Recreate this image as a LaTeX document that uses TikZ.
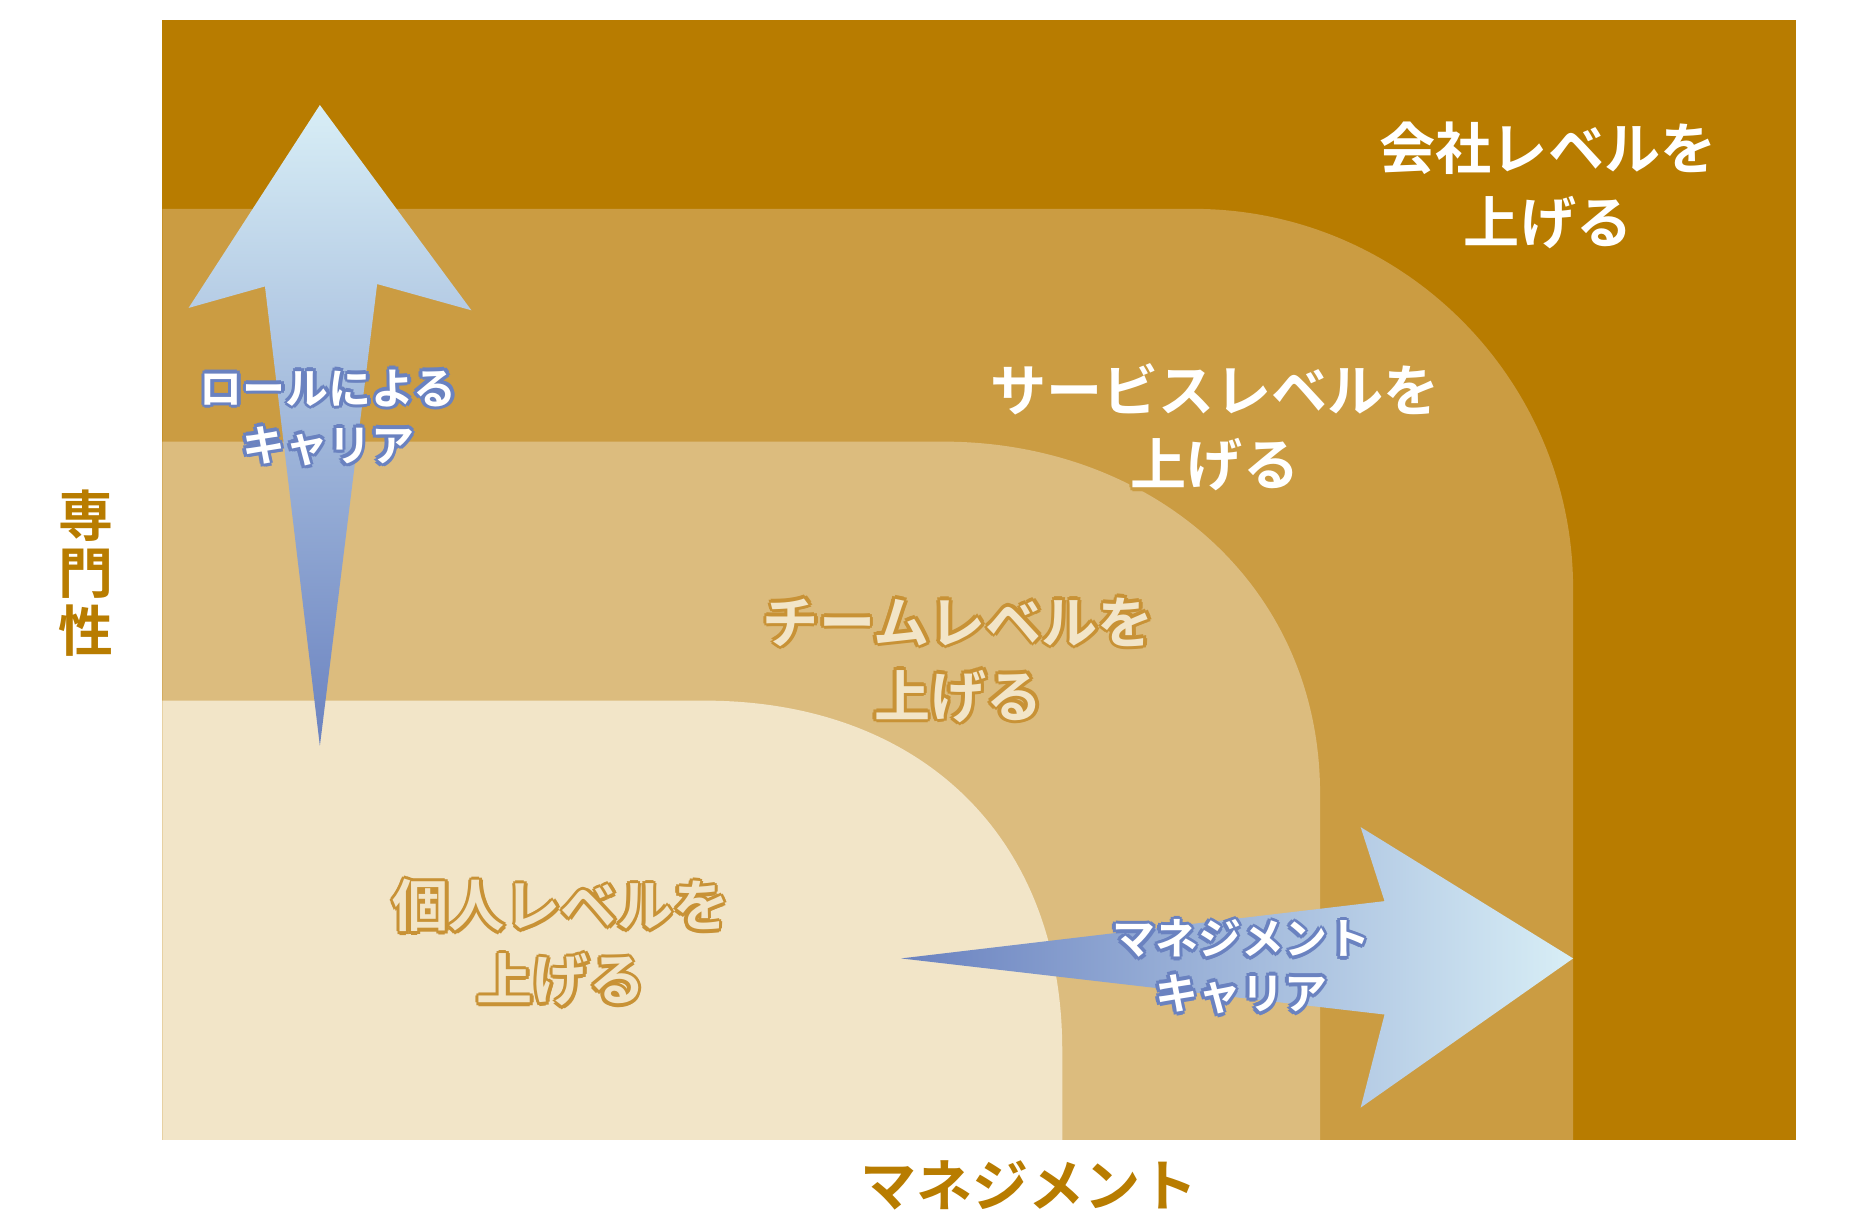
\documentclass[tikz,border=0pt]{standalone}
\usepackage{fontspec}
\setmainfont{Noto Sans CJK JP}[BoldFont={Noto Sans CJK JP Bold}]
\definecolor{lvA}{HTML}{B87C00}
\definecolor{lvB}{HTML}{CB9C42}
\definecolor{lvC}{HTML}{DCBC7E}
\definecolor{lvD}{HTML}{F2E5C8}
\definecolor{arLight}{HTML}{D8EEF6}
\definecolor{arDark}{HTML}{6A82C0}
\definecolor{outBlue}{HTML}{6A82C0}
\definecolor{outOr}{HTML}{C89236}
\usetikzlibrary{calc}
\newcommand{\otext}[6]{% pos, size, skip, fill, outline, text
  \foreach \dx/\dy in {3/0,-3/0,0/3,0/-3,2.2/2.2,-2.2/2.2,2.2/-2.2,-2.2/-2.2}
    {\node[align=center,font=\fontsize{#2}{#3}\selectfont\bfseries,text=#5,inner sep=0] at ($(#1)+(\dx,\dy)$) {#6};}
  \node[align=center,font=\fontsize{#2}{#3}\selectfont\bfseries,text=#4,inner sep=0] at (#1) {#6};}
\begin{document}
\begin{tikzpicture}[x=1pt,y=-1pt]
\useasboundingbox (0,0) rectangle (1550,1032);
\fill[white] (0,0) rectangle (1550,1032);
\fill[lvA] (136,17) rectangle (1505,955);
\fill[lvB] (136,955)--(136,175)--(1000,175) .. controls (1175,175) and (1318,318) .. (1318,493) -- (1318,955) -- cycle;
\fill[lvC] (136,955)--(136,370)--(790,370) .. controls (965,370) and (1106,490) .. (1106,665) -- (1106,955) -- cycle;
\fill[lvD] (136,955)--(136,587)--(590,587) .. controls (770,587) and (890,700) .. (890,880) -- (890,955) -- cycle;
% up arrow
\shade[top color=arLight,bottom color=arDark] (268,88)--(395,260)--(316,238)--(268,625)--(222,240)--(158,258)--cycle;
% right arrow
\shade[left color=arDark,right color=arLight] (755,803)--(1160,755)--(1140,693)--(1318,803)--(1140,928)--(1160,850)--cycle;
\coordinate (tA) at (1297,155);
\coordinate (tB) at (1018,358);
\coordinate (tC) at (803,553);
\coordinate (tD) at (470,790);
\coordinate (tE) at (275,350);
\coordinate (tF) at (1040,810);
\otext{tA}{47}{62}{white}{lvA}{会社レベルを\\上げる}
\otext{tB}{47}{62}{white}{lvB}{サービスレベルを\\上げる}
\otext{tC}{47}{62}{lvD}{outOr}{チームレベルを\\上げる}
\otext{tD}{47}{62}{lvD}{outOr}{個人レベルを\\上げる}
\otext{tE}{36}{48}{white}{outBlue}{ロールによる\\キャリア}
\otext{tF}{36}{46}{white}{outBlue}{マネジメント\\キャリア}
\node[text=lvA,font=\fontsize{46}{48}\selectfont\bfseries,align=center,inner sep=0] (ylab) at (72,480) {専\\門\\性};
\node[text=lvA,font=\fontsize{47}{50}\selectfont\bfseries,inner sep=0] (xlab) at (862,993) {マネジメント};
\end{tikzpicture}
\end{document}
